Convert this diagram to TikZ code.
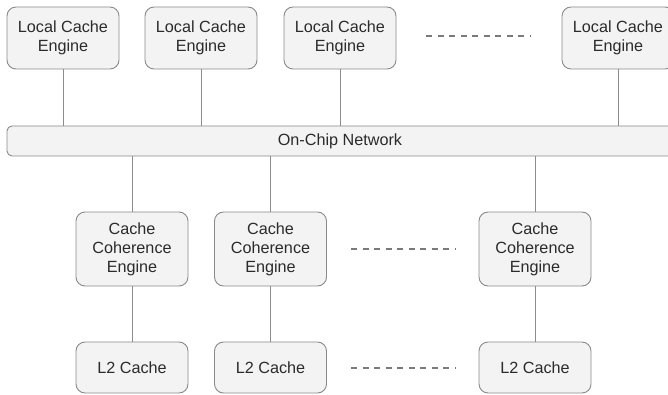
\documentclass[tikz,border=0pt]{standalone}
\usepackage{fontspec}
\setmainfont{Liberation Sans}
\begin{document}
\begin{tikzpicture}[x=1pt,y=-1pt,
  box/.style={draw=boxline, fill=boxfill, rounded corners=9pt, line width=0.9pt,
    align=center, inner sep=0pt, text=txt, font=\fontsize{16.2}{19}\selectfont},
  topbox/.style={box, minimum width=112pt, minimum height=62pt},
  ccebox/.style={box, minimum width=112pt, minimum height=74pt},
  l2box/.style={box, minimum width=112pt, minimum height=51pt},
  link/.style={draw=linkc, line width=0.9pt},
  dots/.style={draw=dashc, line width=1.2pt, dash pattern=on 6pt off 5.5pt}]
\definecolor{boxfill}{HTML}{F3F3F3}
\definecolor{boxline}{HTML}{8A8A8A}
\definecolor{linkc}{HTML}{8C8C8C}
\definecolor{dashc}{HTML}{7A7A7A}
\definecolor{txt}{HTML}{2B2B2B}
\useasboundingbox (0,0) rectangle (668,395);
\clip (0,0) rectangle (668,395);
\node[topbox] (t1) at (63,38) {Local Cache\\Engine};
\node[topbox] (t2) at (201,38) {Local Cache\\Engine};
\node[topbox] (t3) at (340,38) {Local Cache\\Engine};
\node[topbox] (t4) at (618,38) {Local Cache\\Engine};
\node[box, rounded corners=5pt, minimum width=666pt, minimum height=30pt] (bar) at (340,141) {On-Chip Network};
\node[ccebox] (c1) at (132,249) {Cache\\Coherence\\Engine};
\node[ccebox] (c2) at (270.5,249) {Cache\\Coherence\\Engine};
\node[ccebox] (c3) at (535,249) {Cache\\Coherence\\Engine};
\node[l2box] (l1) at (132,367.5) {L2 Cache};
\node[l2box] (l2) at (270.5,367.5) {L2 Cache};
\node[l2box] (l3) at (535,367.5) {L2 Cache};
\foreach \t in {t1,t2,t3,t4} \draw[link] (\t.south) -- (\t.south |- bar.north);
\foreach \c in {c1,c2,c3} \draw[link] (\c.north |- bar.south) -- (\c.north);
\draw[link] (c1) -- (l1);
\draw[link] (c2) -- (l2);
\draw[link] (c3) -- (l3);
\coordinate (d1a) at (426,36); \coordinate (d1b) at (530,36);
\coordinate (d2a) at (351,249); \coordinate (d2b) at (455,249);
\coordinate (d3a) at (351,368); \coordinate (d3b) at (455,368);
\draw[dots] (d1a) -- (d1b);
\draw[dots] (d2a) -- (d2b);
\draw[dots] (d3a) -- (d3b);
\end{tikzpicture}
\end{document}
